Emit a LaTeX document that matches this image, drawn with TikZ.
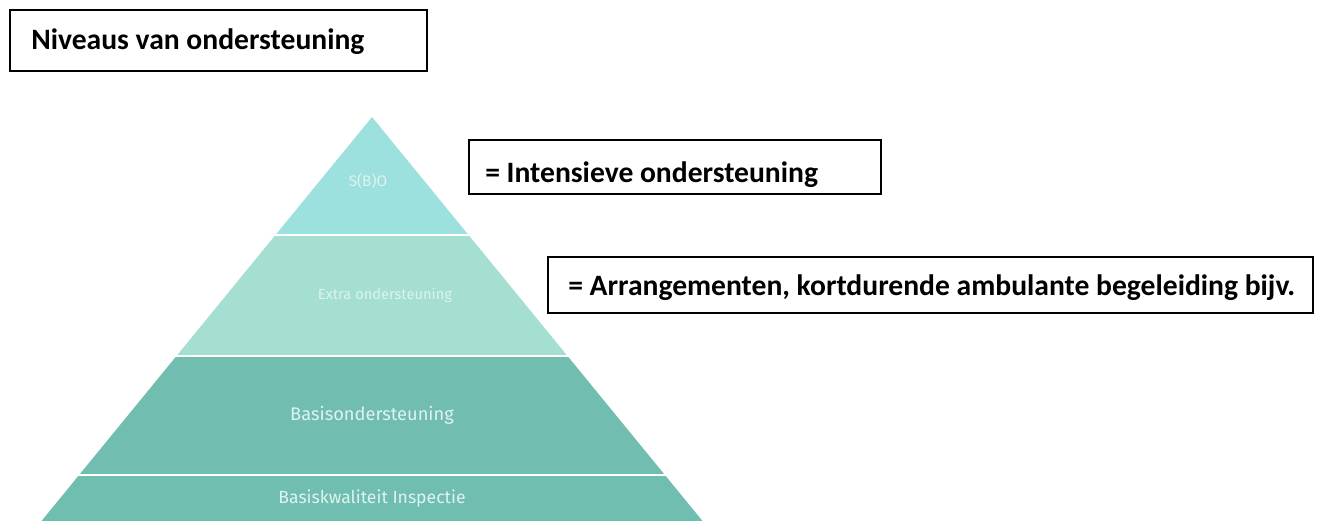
\documentclass[tikz,border=0pt]{standalone}
\usepackage{fontspec}
\setmainfont{Carlito}
\newfontfamily\firafont{Fira Sans}
\definecolor{lvlA}{RGB}{157,225,222}
\definecolor{lvlB}{RGB}{164,223,210}
\definecolor{lvlC}{RGB}{113,189,175}
\definecolor{lvlD}{RGB}{112,190,175}
\definecolor{lbltxt}{RGB}{222,243,239}
\tikzset{
  boxframe/.style={draw=black, line width=1.1pt},
  blacktext/.style={inner sep=0pt, anchor=base west, font=\bfseries\fontsize{22.2}{26}\selectfont},
  lvltext/.style={inner sep=0pt, text=lbltxt, font=\firafont\fontsize{#1}{#1}\selectfont},
}
\begin{document}
\begin{tikzpicture}[x=0.75pt,y=-0.75pt]
\useasboundingbox (0,0) rectangle (1322,521);
\fill[white] (0,0) rectangle (1322,521);
% pyramid bands
\coordinate (apex) at (372,117);
\coordinate (bl) at (41.5,521);
\coordinate (br) at (702.5,521);
\begin{scope}\clip (0,117) rectangle (1322,233);
  \fill[lvlA] (apex) -- (bl) -- (br) -- cycle;\end{scope}
\begin{scope}\clip (0,236) rectangle (1322,354);
  \fill[lvlB] (apex) -- (bl) -- (br) -- cycle;\end{scope}
\begin{scope}\clip (0,357) rectangle (1322,473);
  \fill[lvlC] (apex) -- (bl) -- (br) -- cycle;\end{scope}
\begin{scope}\clip (0,476) rectangle (1322,521);
  \fill[lvlD] (apex) -- (bl) -- (br) -- cycle;\end{scope}
% level labels
\node[lvltext=11.5] (sbo) at (368,181) {S(B)O};
\node[lvltext=11] (extra) at (385,295) {Extra ondersteuning};
\node[lvltext=13.7] (basis) at (372,415) {Basisondersteuning};
\node[lvltext=13.2] (kwal) at (372,499) {Basiskwaliteit Inspectie};
% boxes
\draw[boxframe] (10,10) rectangle (427,71);
\node[blacktext] (title) at (31,49) {Niveaus van ondersteuning};
\draw[boxframe] (469,140) rectangle (881,194);
\node[blacktext] (intens) at (485,182) {= Intensieve ondersteuning};
\draw[boxframe] (548,257) rectangle (1313,313);
\node[blacktext] (arr) at (568,295) {= Arrangementen, kortdurende ambulante begeleiding bijv.};
\end{tikzpicture}
\end{document}
